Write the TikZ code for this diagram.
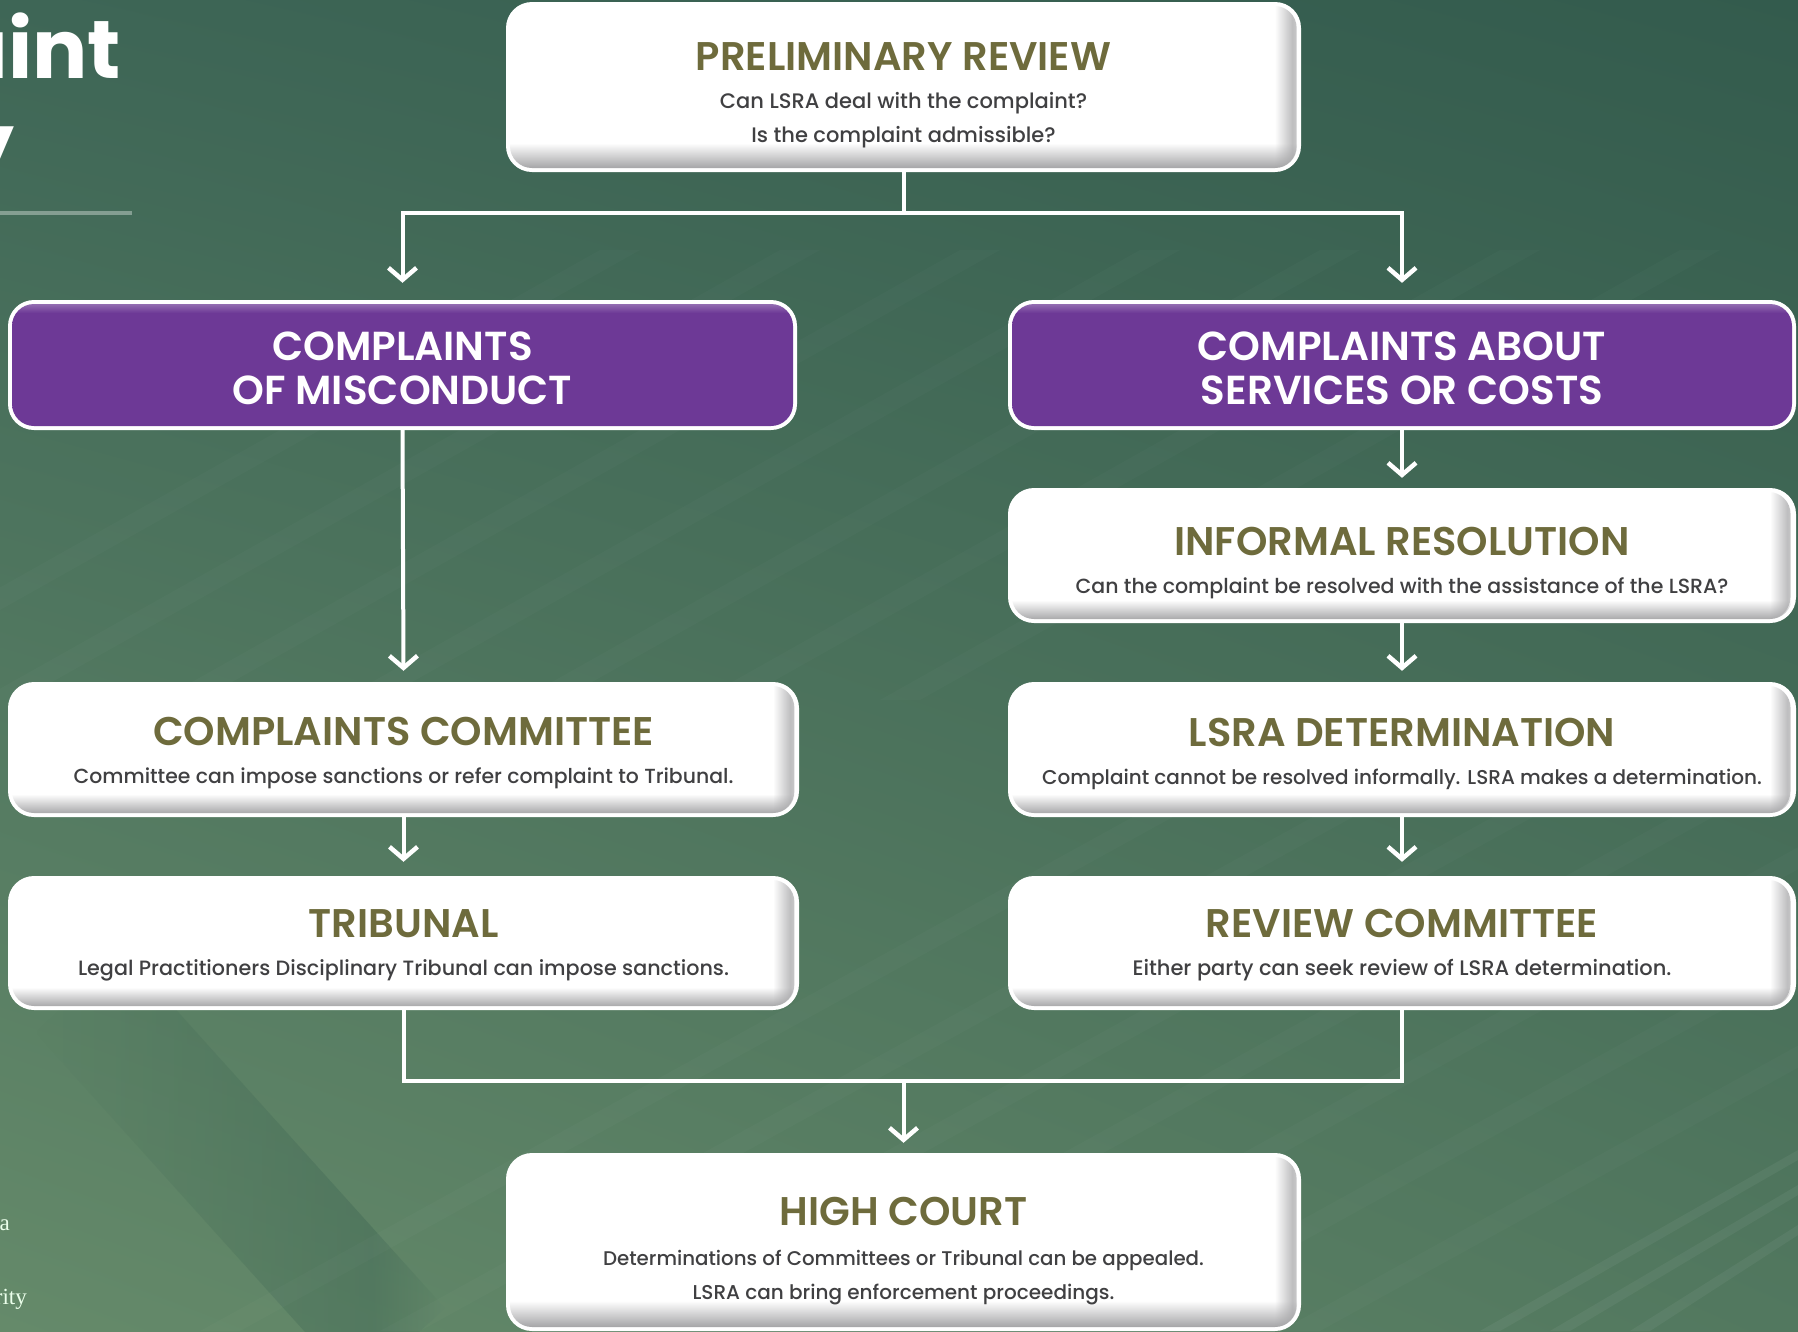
\documentclass[tikz,border=0pt]{standalone}
\usepackage{fontspec}
\setmainfont{Poppins}
\newfontfamily\ttlfont{Poppins SemiBold}
\newfontfamily\subfont{Poppins Medium}
\newfontfamily\heavyfont{Poppins Bold}
\newfontfamily\sidefont{Liberation Serif}
\usetikzlibrary{arrows.meta,fadings,shadings}

\definecolor{bgUL}{HTML}{3E6656}
\definecolor{bgUR}{HTML}{335B4D}
\definecolor{bgLL}{HTML}{658A6A}
\definecolor{bgLR}{HTML}{52785F}
\definecolor{olive}{HTML}{6E6B3C}
\definecolor{bodygrey}{HTML}{404042}
\definecolor{purp}{HTML}{6D3996}
\definecolor{boxgrey}{HTML}{A3A3A5}

% shadings are fitted so that the band 25bp..75bp covers the path
% soft grey rim along the bottom of the white panels
\pgfdeclareverticalshading{whitebox}{100bp}{color(0bp)=(boxgrey!50!white); color(25bp)=(boxgrey!50!white); color(26bp)=(boxgrey); color(33.5bp)=(white); color(100bp)=(white)}
% light rim along the top of the purple panels
\pgfdeclareverticalshading{purplebox}{100bp}{color(0bp)=(purp); color(70bp)=(purp); color(74bp)=(purp!70!white); color(75bp)=(purp!50!white); color(100bp)=(purp!50!white)}
% grey rim along the right edge
\pgfdeclarehorizontalshading{rightedgesh}{100bp}{color(0bp)=(pgftransparent!100); color(73.5bp)=(pgftransparent!100); color(74.6bp)=(pgftransparent!30); color(75bp)=(pgftransparent!45); color(100bp)=(pgftransparent!45)}
\pgfdeclarefading{rightedge}{\pgfuseshading{rightedgesh}}
% soft dark band across the lower left corner
\pgfdeclarehorizontalshading{bandsh}{100bp}{color(0bp)=(pgftransparent!100); color(25bp)=(pgftransparent!100); color(66bp)=(pgftransparent!70); color(75bp)=(pgftransparent!100); color(100bp)=(pgftransparent!100)}
\pgfdeclarefading{bandfade}{\pgfuseshading{bandsh}}

\begin{document}
\begin{tikzpicture}[x=1pt,y=-1pt,
  panel/.style={rounded corners=26pt, fill=white, inner sep=0pt,
    path picture={
      \shade[shading=whitebox, rounded corners=22pt]
        ([shift={(4pt,4pt)}]path picture bounding box.south west) rectangle
        ([shift={(-4pt,-4pt)}]path picture bounding box.north east);
      \fill[boxgrey, path fading=rightedge, fit fading=true, rounded corners=22pt]
        ([shift={(4pt,4pt)}]path picture bounding box.south west) rectangle
        ([shift={(-4pt,-4pt)}]path picture bounding box.north east);
    }},
  branch/.style={rounded corners=26pt, fill=white, inner sep=0pt,
    path picture={
      \shade[shading=purplebox, rounded corners=22pt]
        ([shift={(4pt,4pt)}]path picture bounding box.south west) rectangle
        ([shift={(-4pt,-4pt)}]path picture bounding box.north east);
    }},
  ttl/.style={anchor=base, text=olive, font=\ttlfont\fontsize{40}{40}\selectfont, inner sep=0pt},
  sub/.style={anchor=base, text=bodygrey, font=\subfont\fontsize{#1}{#1}\selectfont, inner sep=0pt},
  sub/.default=21,
  brtxt/.style={anchor=base, text=white, font=\ttlfont\fontsize{40.5}{40.5}\selectfont, inner sep=0pt},
  wline/.style={draw=white, line width=4pt},
  warrow/.style={wline, -{Straight Barb[length=12pt,width=28pt,line width=4.5pt]}},
]
\useasboundingbox (0,0) rectangle (1798,1331);
\begin{scope}
\clip (0,0) rectangle (1798,1331);
% backdrop
\shade[upper left=bgUL, upper right=bgUR, lower left=bgLL, lower right=bgLR] (0,0) rectangle (1798,1331);
\fill[bgUR, path fading=bandfade, fit fading=true, rotate around={-48:(240,1170)}] (0,1110) rectangle (480,1230);
\foreach \o in {0,70,150} {
  \fill[white, opacity=0.05] (1480+\o,1331) -- (1798,1150+\o*0.5) -- (1798,1160+\o*0.5) -- (1500+\o,1331) -- cycle;
}
\foreach \o in {0,180,360,540,720,900,1080} {
  \fill[white, opacity=0.018] (-200+\o,700) -- (600+\o,250) -- (640+\o,250) -- (-160+\o,700) -- cycle;
  \fill[white, opacity=0.018] (200+\o,1331) -- (1200+\o,780) -- (1240+\o,780) -- (240+\o,1331) -- cycle;
}
% heading fragments at the left edge
\node[anchor=base east, text=white, font=\heavyfont\fontsize{82}{82}\selectfont, inner sep=0pt] (head1) at (121,78) {aint};
\node[anchor=base east, text=white, font=\heavyfont\fontsize{82}{82}\selectfont, inner sep=0pt] (head2) at (15,172) {y};
\draw[white, opacity=0.35, line width=4pt] (0,213) -- (132,213);
\node[anchor=base east, text=white!92!green, font=\sidefont\fontsize{23}{23}\selectfont, inner sep=0pt] (foot1) at (10,1230) {a};
\node[anchor=base east, text=white!92!green, font=\sidefont\fontsize{23}{23}\selectfont, inner sep=0pt] (foot2) at (27,1304) {rity};
\end{scope}

% panels
\node[panel, minimum width=795pt, minimum height=170pt] (prelim) at (903.5,87) {};
\node[branch, minimum width=789pt, minimum height=130pt] (mis) at (402.5,365) {};
\node[branch, minimum width=788pt, minimum height=130pt] (svc) at (1402,365) {};
\node[panel, minimum width=788pt, minimum height=135pt] (inf) at (1402,555.5) {};
\node[panel, minimum width=791pt, minimum height=135pt] (cc) at (403.5,749.5) {};
\node[panel, minimum width=788pt, minimum height=135pt] (det) at (1402,749.5) {};
\node[panel, minimum width=791pt, minimum height=134pt] (trib) at (403.5,943) {};
\node[panel, minimum width=788pt, minimum height=134pt] (rev) at (1402,943) {};
\node[panel, minimum width=795pt, minimum height=178pt] (hc) at (903.5,1242) {};

% panel texts
\node[ttl] (prelim-t) at (903.5,70) {PRELIMINARY REVIEW};
\node[sub] (prelim-s1) at (903.5,108) {Can LSRA deal with the complaint?};
\node[sub] (prelim-s2) at (903.5,142) {Is the complaint admissible?};

\node[brtxt] (mis-t1) at (402.5,360) {COMPLAINTS};
\node[brtxt] (mis-t2) at (402.5,404) {OF MISCONDUCT};
\node[brtxt] (svc-t1) at (1402,360) {COMPLAINTS ABOUT};
\node[brtxt] (svc-t2) at (1402,404) {SERVICES OR COSTS};

\node[ttl] (inf-t) at (1402,555) {INFORMAL RESOLUTION};
\node[sub=20.5] (inf-s) at (1402,593) {Can the complaint be resolved with the assistance of the LSRA?};

\node[ttl] (cc-t) at (403.5,745) {COMPLAINTS COMMITTEE};
\node[sub=20.4] (cc-s) at (403.5,783) {Committee can impose sanctions or refer complaint to Tribunal.};

\node[ttl] (det-t) at (1402,746) {LSRA DETERMINATION};
\node[sub=20] (det-s) at (1402,784) {Complaint cannot be resolved informally. LSRA makes a determination.};

\node[ttl] (trib-t) at (403.5,937) {TRIBUNAL};
\node[sub=20.7] (trib-s) at (403.5,975) {Legal Practitioners Disciplinary Tribunal can impose sanctions.};

\node[ttl] (rev-t) at (1402,937) {REVIEW COMMITTEE};
\node[sub] (rev-s) at (1402,975) {Either party can seek review of LSRA determination.};

\node[ttl] (hc-t) at (903.5,1225) {HIGH COURT};
\node[sub=19.8] (hc-s1) at (903.5,1265) {Determinations of Committees or Tribunal can be appealed.};
\node[sub=20] (hc-s2) at (903.5,1299) {LSRA can bring enforcement proceedings.};

% connectors
\coordinate (jtop) at (903.5,213);
\draw[wline] (prelim.south) -- (jtop);
\draw[warrow] (jtop) -| ([yshift=17pt]mis.north);
\draw[warrow] (jtop) -| ([yshift=17pt]svc.north);
\draw[warrow] (mis.south) -- ([yshift=11pt]cc.north);
\draw[warrow] (cc.south) -- ([yshift=14pt]trib.north);
\draw[warrow] (svc.south) -- ([yshift=10pt]inf.north);
\draw[warrow] (inf.south) -- ([yshift=11pt]det.north);
\draw[warrow] (det.south) -- ([yshift=14pt]rev.north);
\coordinate (jbot) at (903.5,1081);
\draw[wline] (trib.south) |- (jbot) -| (rev.south);
\draw[warrow] (jbot) -- ([yshift=10pt]hc.north);
\end{tikzpicture}
\end{document}
